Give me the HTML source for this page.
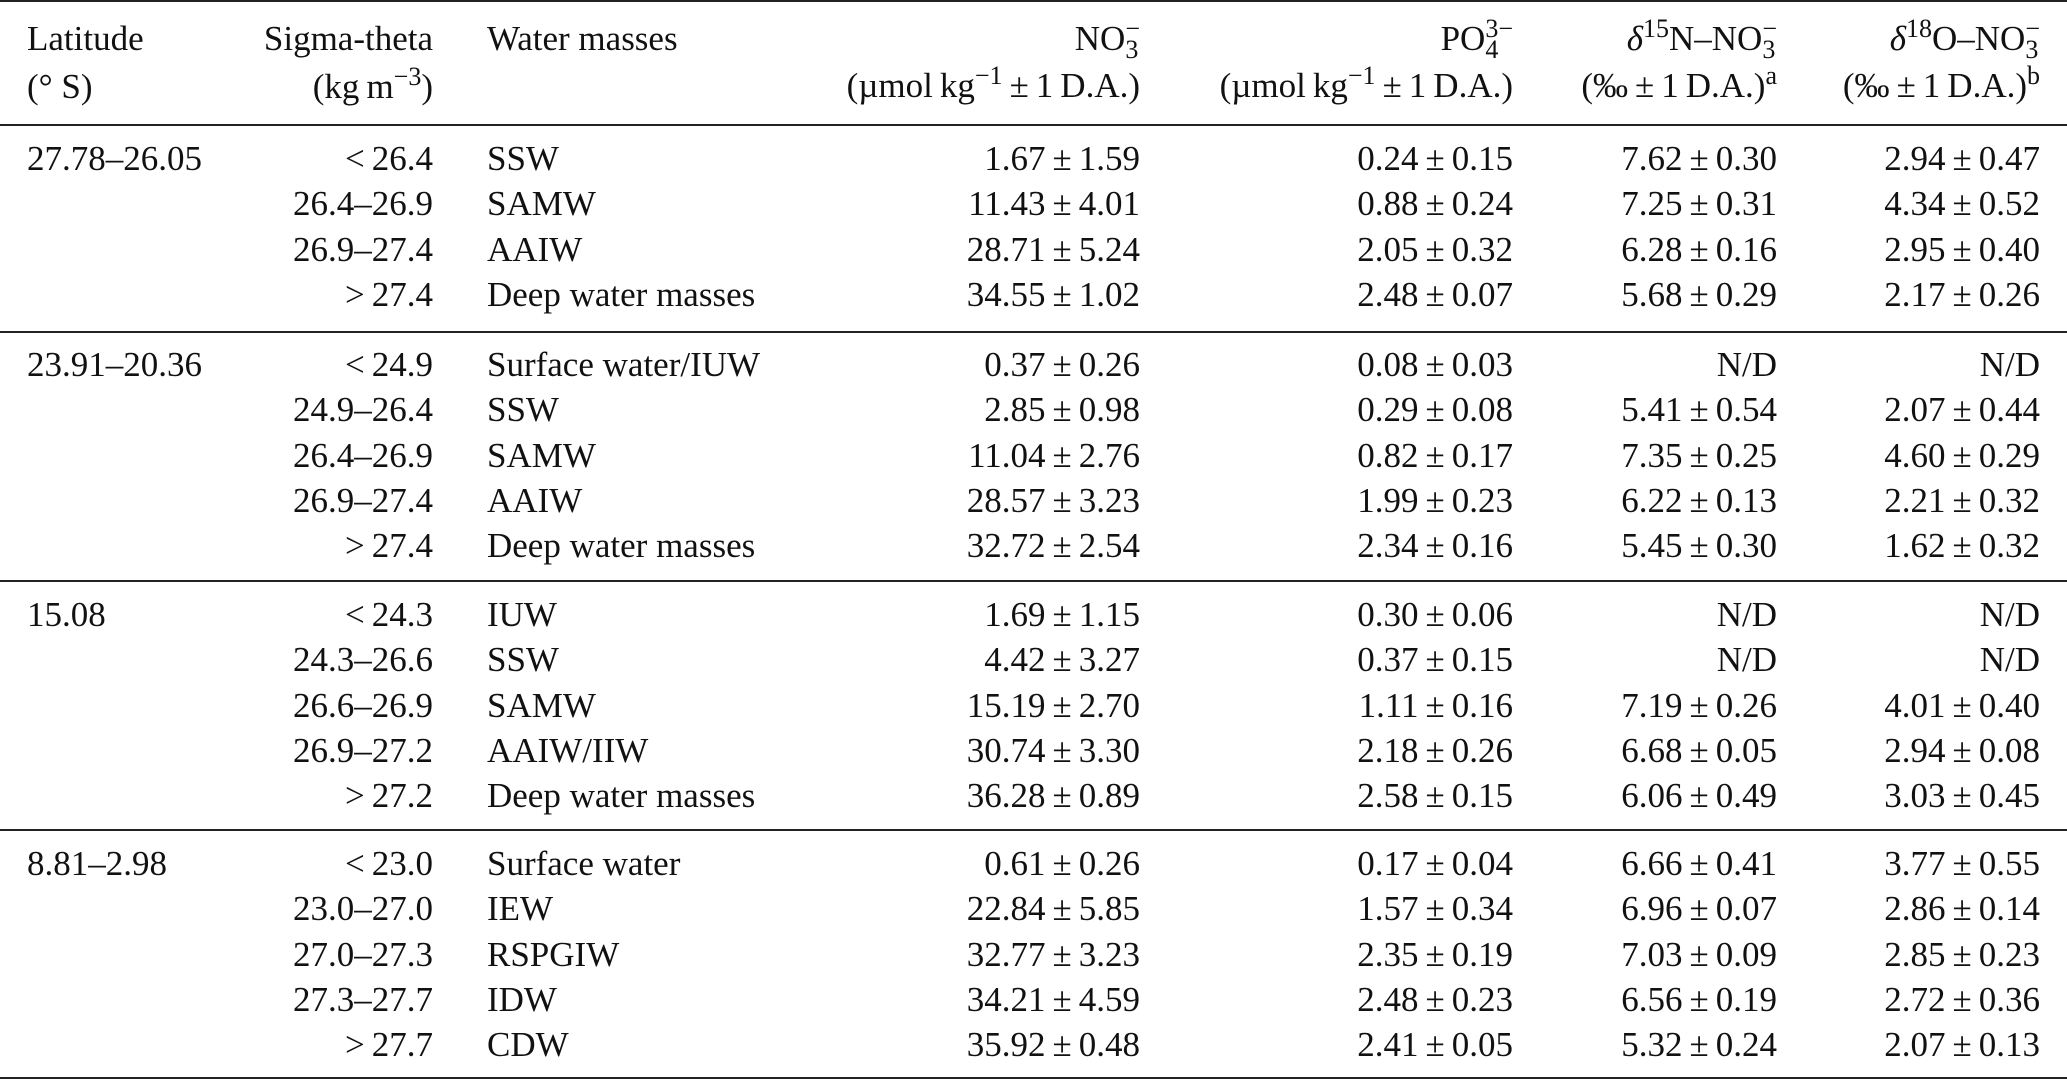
<!DOCTYPE html>
<html><head><meta charset="utf-8">
<style>
html,body{margin:0;padding:0;background:#fff;}
body{width:2067px;height:1081px;position:relative;overflow:hidden;font-family:"Liberation Serif",serif;font-size:35px;color:#111;}
.c{position:absolute;line-height:35px;white-space:nowrap;}
.r{text-align:right;}
.rule{position:absolute;left:0;width:2067px;height:2px;background:#222;}
.ss{display:inline-block;vertical-align:middle;line-height:0.8;font-size:26px;text-align:left;position:relative;top:-2px;}
.ss span{display:block;}
sup{font-size:26px;line-height:0;vertical-align:0.5em;}
</style></head><body>
<div class="rule" style="top:0px"></div>
<div class="rule" style="top:124px"></div>

<div class="c" style="left:27px;top:21px">Latitude</div>
<div class="c" style="left:27px;top:69px">(° S)</div>
<div class="c r" style="right:1634px;top:21px">Sigma-theta</div>
<div class="c r" style="right:1634px;top:69px">(kg&thinsp;m<sup>−3</sup>)</div>
<div class="c" style="left:487px;top:21px">Water masses</div>
<div class="c r" style="right:927px;top:21px">NO<span class="ss"><span>−</span><span>3</span></span></div>
<div class="c r" style="right:927px;top:68px">(µmol&thinsp;kg<sup>−1</sup>&thinsp;±&thinsp;1&thinsp;D.A.)</div>
<div class="c r" style="right:554px;top:21px">PO<span class="ss"><span>3−</span><span>4</span></span></div>
<div class="c r" style="right:554px;top:68px">(µmol&thinsp;kg<sup>−1</sup>&thinsp;±&thinsp;1&thinsp;D.A.)</div>
<div class="c r" style="right:290px;top:21px"><i>δ</i><sup>15</sup>N–NO<span class="ss"><span>−</span><span>3</span></span></div>
<div class="c r" style="right:290px;top:68px">(‰&thinsp;±&thinsp;1&thinsp;D.A.)<sup>a</sup></div>
<div class="c r" style="right:27px;top:21px"><i>δ</i><sup>18</sup>O–NO<span class="ss"><span>−</span><span>3</span></span></div>
<div class="c r" style="right:27px;top:68px">(‰&thinsp;±&thinsp;1&thinsp;D.A.)<sup>b</sup></div>

<div id="body"></div>
<script>
const sections=[
 {lat:"27.78–26.05",base:170,rows:[
  ["< 26.4","SSW","1.67 ± 1.59","0.24 ± 0.15","7.62 ± 0.30","2.94 ± 0.47"],
  ["26.4–26.9","SAMW","11.43 ± 4.01","0.88 ± 0.24","7.25 ± 0.31","4.34 ± 0.52"],
  ["26.9–27.4","AAIW","28.71 ± 5.24","2.05 ± 0.32","6.28 ± 0.16","2.95 ± 0.40"],
  ["> 27.4","Deep water masses","34.55 ± 1.02","2.48 ± 0.07","5.68 ± 0.29","2.17 ± 0.26"]],rule:331},
 {lat:"23.91–20.36",base:376,rows:[
  ["< 24.9","Surface water/IUW","0.37 ± 0.26","0.08 ± 0.03","N/D","N/D"],
  ["24.9–26.4","SSW","2.85 ± 0.98","0.29 ± 0.08","5.41 ± 0.54","2.07 ± 0.44"],
  ["26.4–26.9","SAMW","11.04 ± 2.76","0.82 ± 0.17","7.35 ± 0.25","4.60 ± 0.29"],
  ["26.9–27.4","AAIW","28.57 ± 3.23","1.99 ± 0.23","6.22 ± 0.13","2.21 ± 0.32"],
  ["> 27.4","Deep water masses","32.72 ± 2.54","2.34 ± 0.16","5.45 ± 0.30","1.62 ± 0.32"]],rule:580},
 {lat:"15.08",base:626,rows:[
  ["< 24.3","IUW","1.69 ± 1.15","0.30 ± 0.06","N/D","N/D"],
  ["24.3–26.6","SSW","4.42 ± 3.27","0.37 ± 0.15","N/D","N/D"],
  ["26.6–26.9","SAMW","15.19 ± 2.70","1.11 ± 0.16","7.19 ± 0.26","4.01 ± 0.40"],
  ["26.9–27.2","AAIW/IIW","30.74 ± 3.30","2.18 ± 0.26","6.68 ± 0.05","2.94 ± 0.08"],
  ["> 27.2","Deep water masses","36.28 ± 0.89","2.58 ± 0.15","6.06 ± 0.49","3.03 ± 0.45"]],rule:829},
 {lat:"8.81–2.98",base:875,rows:[
  ["< 23.0","Surface water","0.61 ± 0.26","0.17 ± 0.04","6.66 ± 0.41","3.77 ± 0.55"],
  ["23.0–27.0","IEW","22.84 ± 5.85","1.57 ± 0.34","6.96 ± 0.07","2.86 ± 0.14"],
  ["27.0–27.3","RSPGIW","32.77 ± 3.23","2.35 ± 0.19","7.03 ± 0.09","2.85 ± 0.23"],
  ["27.3–27.7","IDW","34.21 ± 4.59","2.48 ± 0.23","6.56 ± 0.19","2.72 ± 0.36"],
  ["> 27.7","CDW","35.92 ± 0.48","2.41 ± 0.05","5.32 ± 0.24","2.07 ± 0.13"]],rule:1077}
];
const rights=[1634,927,554,290,27];
const names=['sigma','no3','po4','d15n','d18o'];
const root=document.getElementById('body');
function fmt(s){return s.replace(/ ± /g,'\u2009±\u2009').replace(/^([<>]) /,'$1\u2009');}
sections.forEach((s,si)=>{
  const lat=document.createElement('div');
  lat.className='c';lat.style.left='27px';lat.style.top=(s.base-29)+'px';lat.textContent=s.lat;
  
  
  root.appendChild(lat);
  s.rows.forEach((r,ri)=>{
    const top=s.base+ri*45.3-29;
    const wm=document.createElement('div');
    wm.className='c';wm.style.left='487px';wm.style.top=top+'px';wm.textContent=r[1];
    
    
    root.appendChild(wm);
    [r[0],r[2],r[3],r[4],r[5]].forEach((v,ci)=>{
      const d=document.createElement('div');
      d.className='c r';d.style.right=rights[ci]+'px';d.style.top=top+'px';d.textContent=fmt(v);
      
      
      root.appendChild(d);
    });
  });
  const rl=document.createElement('div');
  rl.className='rule';rl.style.top=s.rule+'px';
  
  
  root.appendChild(rl);
});
</script>
</body></html>
